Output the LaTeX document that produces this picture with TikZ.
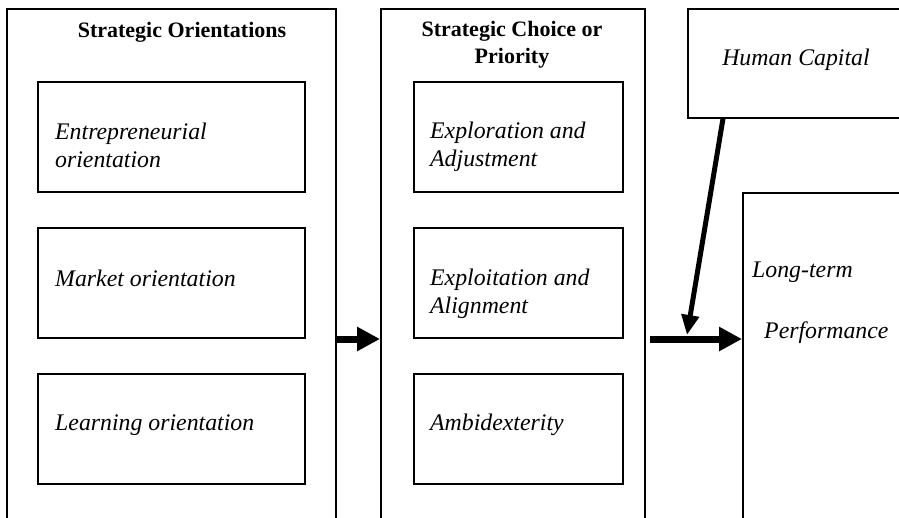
\documentclass[tikz,border=0pt]{standalone}
\usepackage{fontspec}
\setmainfont{Liberation Serif}
\usetikzlibrary{arrows.meta}
\tikzset{
  outerbox/.style={draw, line width=1.6pt, anchor=north west, inner sep=0pt},
  innerbox/.style={draw, line width=1.6pt, anchor=north west, inner sep=0pt},
  lbl/.style={font=\fontsize{23.8}{28}\selectfont\itshape, align=left, anchor=west, inner sep=0pt},
  ttl/.style={font=\fontsize{22}{27}\selectfont\bfseries, align=center, inner sep=0pt},
  bigarrow/.style={line width=7pt, -{Triangle[length=23pt,width=23pt]}},
  diagarrow/.style={line width=5pt, -{Triangle[length=20pt,width=17pt]}}
}
\begin{document}
\begin{tikzpicture}[x=1pt,y=-1pt]
\useasboundingbox (0,0) rectangle (899,517);
\begin{scope}
\clip (0,0) rectangle (899,517);
\node[outerbox, minimum width=329pt, minimum height=600pt] (lo) at (6,8) {};
\node[outerbox, minimum width=264pt, minimum height=600pt] (mo) at (380,8) {};
\node[outerbox, minimum width=240pt, minimum height=109pt] (hc) at (687,8) {};
\node[outerbox, minimum width=200pt, minimum height=400pt] (pf) at (742,192) {};
\end{scope}
% inner boxes
\node[innerbox, minimum width=267pt, minimum height=110pt] (l1) at (37,81) {};
\node[innerbox, minimum width=267pt, minimum height=110pt] (l2) at (37,227) {};
\node[innerbox, minimum width=267pt, minimum height=110pt] (l3) at (37,373) {};
\node[innerbox, minimum width=209pt, minimum height=110pt] (m1) at (413,81) {};
\node[innerbox, minimum width=209pt, minimum height=110pt] (m2) at (413,227) {};
\node[innerbox, minimum width=209pt, minimum height=110pt] (m3) at (413,373) {};
% titles
\node[ttl] (t1) at (182,32) {Strategic Orientations};
\node[ttl] (t2) at (512,45) {Strategic Choice or\\Priority};
\node[font=\fontsize{23.8}{28}\selectfont\itshape, inner sep=0pt] (t3) at (796,60) {Human Capital};
% labels
\node[lbl] (e1) at (55,145) {Entrepreneurial\\orientation};
\node[lbl] (e2) at (55,278) {Market orientation};
\node[lbl] (e3) at (55,425) {Learning orientation};
\node[lbl] (f1) at (430,147) {Exploration and\\Adjustment};
\node[lbl] (f2) at (430,294) {Exploitation and\\Alignment};
\node[lbl] (f3) at (430,425) {Ambidexterity};
\node[lbl] (g1) at (752,272) {Long-term};
\node[lbl] (g2) at (764,333) {Performance};
% arrows
\coordinate (a2s) at (650,339);
\coordinate (hit) at (687,335);
\draw[bigarrow] (lo.east |- 0,339) -- (mo.west |- 0,339);
\draw[bigarrow] (a2s) -- (pf.west |- a2s);
\draw[diagarrow] (hc.south -| 723,0) -- (hit);
\end{tikzpicture}
\end{document}
